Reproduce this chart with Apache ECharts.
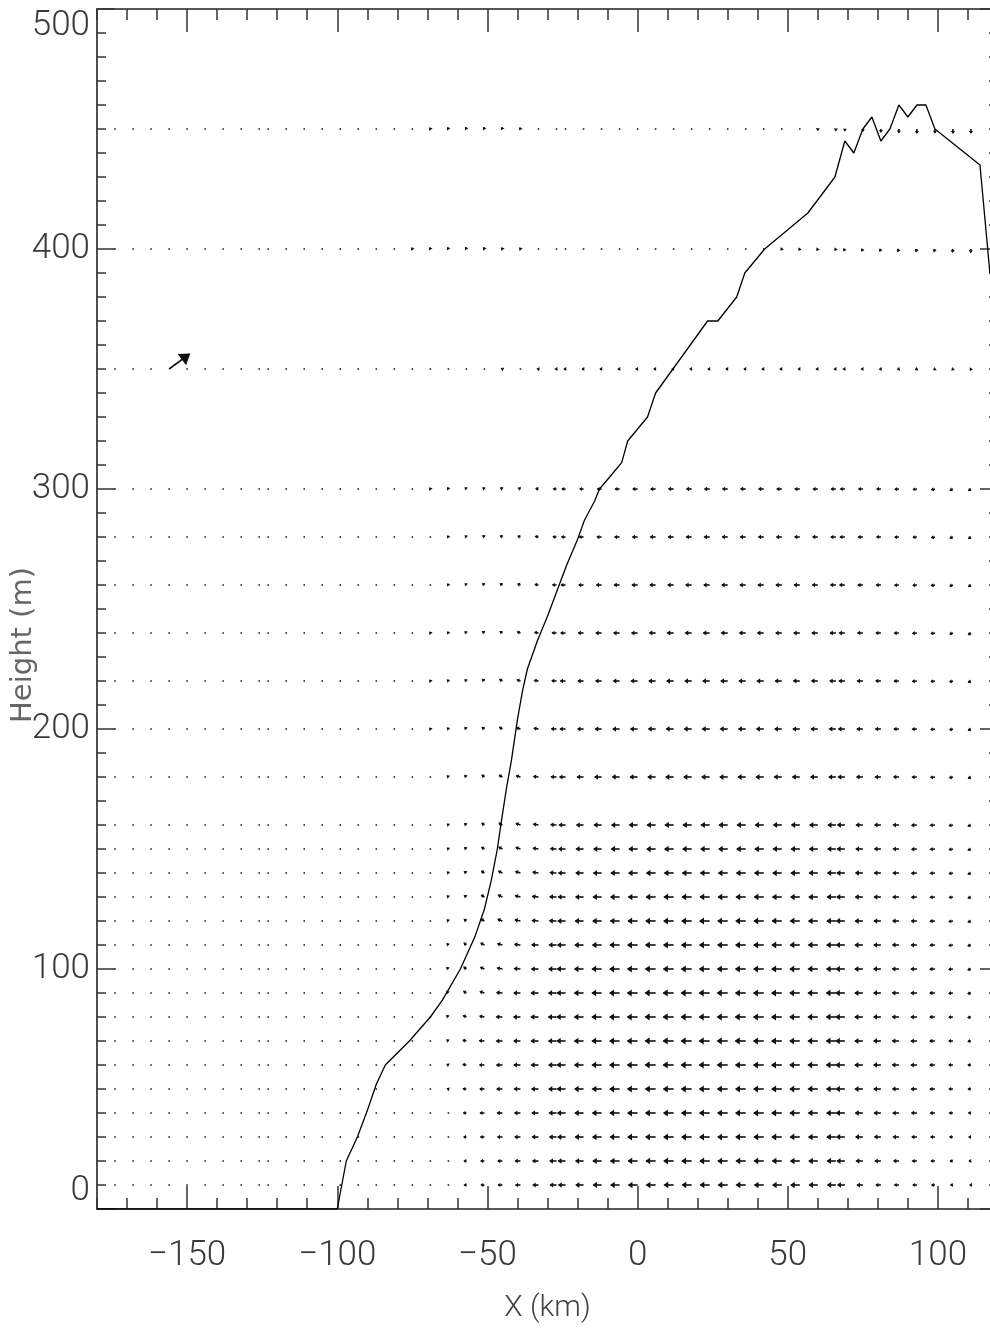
<!DOCTYPE html>
<html>
<head>
<meta charset="utf-8">
<script src="https://cdn.jsdelivr.net/npm/echarts@6/dist/echarts.min.js"></script>
<style>html,body{margin:0;padding:0;background:#fff}#chart{width:990px;height:1336px}</style>
</head>
<body>
<div id="chart"></div>
<script>
// ---------------- DATA ----------------
// grid columns (km): A | B | C | D
const X_COLUMNS = [-174,-168,-162,-156,-150,-144,-138,-132,-126,
  -123,-117,-111,-105,-99,-93,-87,-81,-75,-69,-63,-57,-51,-45,-39,-33,-27,
  -24,-18,-12,-6,0,6,12,18,24,30,36,42,48,54,60,66,
  69,75,81,87,93,99,105,111];
const ROW_HEIGHTS = [10,20,30,40,50,60,70,80,90,100,110,120,130,140,150,160,180,200,220,240,260,280,300,350,400,450];

// horizontal wind (m/s) for each row, same order as X_COLUMNS
const u_h010 = [0,0,0,0,0,0,0,0,0, 0,0,0,0,0,0,0,0,0,0,-0.3,-1.2,-1.9,-2.5,-2.9,-3.3,-3.8, -4.2,-4.6,-5,-5.3,-5.5,-5.6,-5.7,-5.7,-5.7,-5.7,-5.7,-5.6,-5.5,-5.4,-5.2,-5, -4.3,-3.4,-2.9,-2.6,-2.3,-1.9,-1.3,-0.6];
const u_h020 = [0,0,0,0,0,0,0,0,0, 0,0,0,0,0,0,0,0,0,0,-0.3,-1.3,-2.1,-2.7,-3.1,-3.5,-4, -4.4,-4.8,-5.2,-5.5,-5.7,-5.8,-5.9,-5.9,-5.9,-5.9,-5.8,-5.8,-5.7,-5.6,-5.4,-5.2, -4.7,-4,-3.5,-3.1,-2.7,-2.2,-1.6,-1];
const u_h030 = [0,0,0,0,0,0,0,0,0, 0,0,0,0,0,0,0,0,0,0,-0.4,-1.5,-2.3,-2.9,-3.3,-3.7,-4.2, -4.6,-5,-5.4,-5.7,-5.9,-6,-6,-6,-6,-6,-6,-5.9,-5.9,-5.8,-5.6,-5.4, -5,-4.3,-3.8,-3.4,-3,-2.5,-1.9,-1.2];
const u_h040 = [0,0,0,0,0,0,0,0,0, 0,0,0,0,0,0,0,0,0,0,-0.5,-1.7,-2.5,-3.1,-3.5,-3.9,-4.4, -4.8,-5.2,-5.5,-5.8,-6,-6.1,-6.1,-6.1,-6.1,-6.1,-6.1,-6,-6,-5.9,-5.7,-5.5, -5.2,-4.5,-4,-3.6,-3.2,-2.7,-2.1,-1.4];
const u_h050 = [0,0,0,0,0,0,0,0,0, 0,0,0,0,0,0,0,0,0,-0.1,-0.6,-1.9,-2.7,-3.3,-3.7,-4.1,-4.6, -5,-5.3,-5.6,-5.9,-6.1,-6.2,-6.2,-6.2,-6.2,-6.2,-6.1,-6.1,-6,-5.9,-5.8,-5.6, -5.3,-4.7,-4.2,-3.8,-3.4,-2.9,-2.3,-1.6];
const u_h060 = [0,0,0,0,0,0,0,0,0, 0,0,0,0,0,0,0,0,0,-0.2,-0.8,-2,-2.9,-3.5,-3.9,-4.3,-4.7, -5.1,-5.4,-5.7,-6,-6.2,-6.3,-6.3,-6.3,-6.3,-6.3,-6.2,-6.2,-6.1,-6,-5.9,-5.7, -5.4,-4.8,-4.3,-3.9,-3.5,-3,-2.4,-1.7];
const u_h070 = [0,0,0,0,0,0,0,0,0, 0,0,0,0,0,0,0,0,0,-0.2,-0.9,-2,-3,-3.6,-4,-4.4,-4.8, -5.2,-5.5,-5.8,-6,-6.2,-6.3,-6.3,-6.3,-6.3,-6.3,-6.3,-6.2,-6.1,-6,-5.9,-5.7, -5.4,-4.8,-4.3,-3.9,-3.5,-3,-2.4,-1.7];
const u_h080 = [0,0,0,0,0,0,0,0,0, 0,0,0,0,0,0,0,0,0,-0.2,-1,-1.8,-2.8,-3.6,-4.1,-4.5,-4.9, -5.2,-5.5,-5.8,-6,-6.2,-6.3,-6.3,-6.3,-6.3,-6.3,-6.3,-6.2,-6.1,-6,-5.9,-5.7, -5.4,-4.8,-4.3,-3.9,-3.5,-3,-2.4,-1.8];
const u_h090 = [0,0,0,0,0,0,0,0,0, 0,0,0,0,0,0,0,0,0,-0.3,-1,-1.6,-2.6,-3.4,-4,-4.4,-4.8, -5.1,-5.5,-5.8,-6,-6.2,-6.3,-6.3,-6.3,-6.3,-6.3,-6.2,-6.2,-6.1,-6,-5.9,-5.7, -5.4,-4.8,-4.3,-3.9,-3.5,-3,-2.4,-1.8];
const u_h100 = [0,0,0,0,0,0,0,0,0, 0,0,0,0,0,0,0,0,-0.1,-0.3,-0.9,-1.5,-2.3,-3.1,-3.7,-4.2,-4.6, -5,-5.4,-5.7,-5.9,-6.1,-6.2,-6.2,-6.2,-6.2,-6.2,-6.2,-6.1,-6,-5.9,-5.8,-5.6, -5.3,-4.8,-4.3,-3.9,-3.5,-3,-2.4,-1.8];
const u_h110 = [0,0,0,0,0,0,0,0,0, 0,0,0,0,0,0,0,0,-0.1,-0.3,-0.8,-1.4,-2.1,-2.9,-3.5,-4,-4.4, -4.8,-5.2,-5.5,-5.8,-6,-6.1,-6.1,-6.1,-6.1,-6.1,-6.1,-6,-5.9,-5.8,-5.7,-5.5, -5.2,-4.7,-4.2,-3.8,-3.4,-2.9,-2.3,-1.8];
const u_h120 = [0,0,0,0,0,0,0,0,0, 0,0,0,0,0,0,0,0,-0.1,-0.3,-0.7,-1.3,-1.9,-2.7,-3.3,-3.8,-4.2, -4.6,-5,-5.3,-5.6,-5.8,-5.9,-6,-6,-6,-6,-6,-5.9,-5.8,-5.7,-5.6,-5.4, -5.1,-4.6,-4.1,-3.7,-3.3,-2.8,-2.3,-1.7];
const u_h130 = [0,0,0,0,0,0,0,0,0, 0,0,0,0,0,0,0,0,-0.1,-0.3,-0.7,-1.2,-1.8,-2.5,-3.1,-3.6,-4, -4.4,-4.8,-5.1,-5.4,-5.6,-5.7,-5.8,-5.8,-5.8,-5.8,-5.8,-5.7,-5.6,-5.5,-5.4,-5.2, -4.9,-4.5,-4,-3.6,-3.2,-2.8,-2.2,-1.7];
const u_h140 = [0,0,0,0,0,0,0,0,0, 0,0,0,0,0,0,0,0,-0.1,-0.3,-0.6,-1.2,-1.7,-2.3,-2.9,-3.4,-3.8, -4.2,-4.6,-4.9,-5.2,-5.4,-5.5,-5.6,-5.6,-5.6,-5.6,-5.6,-5.5,-5.4,-5.3,-5.2,-5, -4.8,-4.4,-3.9,-3.5,-3.2,-2.7,-2.2,-1.7];
const u_h150 = [0,0,0,0,0,0,0,0,0, 0,0,0,0,0,0,0,0,-0.1,-0.3,-0.6,-1.1,-1.6,-2.1,-2.7,-3.2,-3.6, -4,-4.4,-4.7,-5,-5.2,-5.3,-5.4,-5.4,-5.4,-5.4,-5.4,-5.3,-5.2,-5.2,-5,-4.9, -4.6,-4.2,-3.8,-3.4,-3.1,-2.7,-2.2,-1.7];
const u_h160 = [0,0,0,0,0,0,0,0,0, 0,0,0,0,0,0,0,0,-0.1,-0.3,-0.6,-1.1,-1.5,-2,-2.6,-3,-3.4, -3.8,-4.2,-4.5,-4.8,-5,-5.1,-5.2,-5.2,-5.2,-5.2,-5.2,-5.1,-5,-5,-4.9,-4.7, -4.4,-4,-3.7,-3.4,-3.1,-2.7,-2.2,-1.7];
const u_h180 = [0,0,0,0,0,0,0,0,0, 0,0,0,0,0,0,0,-0.1,-0.2,-0.4,-0.7,-1,-1.4,-1.9,-2.4,-2.9,-3.2, -3.5,-3.8,-4.1,-4.3,-4.5,-4.6,-4.7,-4.7,-4.7,-4.7,-4.6,-4.6,-4.5,-4.4,-4.3,-4.1, -4,-3.7,-3.4,-3.1,-2.8,-2.5,-2,-1.5];
const u_h200 = [0,0,0,0,0,0,0,0,0, 0,0,0,0,0,0,0,-0.1,-0.2,-0.4,-0.6,-0.9,-1.3,-1.7,-2.2,-2.6,-3, -3.2,-3.5,-3.8,-4,-4.2,-4.3,-4.4,-4.4,-4.4,-4.4,-4.3,-4.3,-4.2,-4.1,-4,-3.9, -3.8,-3.5,-3.2,-2.9,-2.7,-2.4,-1.9,-1.5];
const u_h220 = [0,0,0,0,0,0,0,0,0, 0,0,0,0,0,0,0,-0.1,-0.2,-0.4,-0.6,-0.8,-1.2,-1.6,-2,-2.4,-2.7, -3,-3.3,-3.5,-3.7,-3.9,-4,-4.1,-4.1,-4.1,-4.1,-4,-4,-3.9,-3.8,-3.7,-3.6, -3.5,-3.3,-3,-2.8,-2.6,-2.3,-1.9,-1.5];
const u_h240 = [0,0,0,0,0,0,0,0,0, 0,0,0,0,0,0,0,-0.1,-0.2,-0.4,-0.5,-0.8,-1.1,-1.4,-1.8,-2.2,-2.5, -2.8,-3.1,-3.3,-3.5,-3.6,-3.7,-3.8,-3.8,-3.8,-3.8,-3.7,-3.7,-3.6,-3.6,-3.5,-3.4, -3.3,-3.1,-2.9,-2.7,-2.5,-2.2,-1.8,-1.5];
const u_h260 = [0,0,0,0,0,0,0,0,0, 0,0,0,0,0,0,0,-0.1,-0.2,-0.3,-0.5,-0.7,-1,-1.3,-1.6,-2,-2.3, -2.5,-2.8,-3,-3.2,-3.3,-3.4,-3.5,-3.5,-3.5,-3.5,-3.4,-3.4,-3.4,-3.3,-3.2,-3.1, -3.1,-2.9,-2.7,-2.5,-2.3,-2.1,-1.8,-1.4];
const u_h280 = [0,0,0,0,0,0,0,0,0, 0,0,0,0,0,0,0,-0.1,-0.2,-0.3,-0.5,-0.7,-0.9,-1.2,-1.5,-1.8,-2, -2.3,-2.5,-2.7,-2.9,-3,-3.1,-3.2,-3.2,-3.2,-3.2,-3.2,-3.1,-3.1,-3,-3,-2.9, -2.8,-2.7,-2.5,-2.4,-2.2,-2,-1.7,-1.4];
const u_h300 = [0,0,0,0,0,0,0,0,0, 0,0,0,0,0,0,0,-0.1,-0.2,-0.4,-0.5,-0.7,-0.8,-1,-1.2,-1.5,-1.8, -2,-2.2,-2.4,-2.6,-2.8,-2.9,-3,-3,-3,-3,-3,-3,-2.9,-2.9,-2.8,-2.7, -2.6,-2.5,-2.4,-2.3,-2.2,-2,-1.7,-1.4];
const u_h350 = [0,0,0,12.7,0,0,0,0,0, 0,0,0,0,0,0,0,0,-0.1,-0.2,-0.3,-0.4,-0.4,-0.5,-0.5,-0.6,-0.6, -0.7,-0.7,-0.8,-0.8,-0.9,-0.9,-0.9,-0.9,-0.9,-0.9,-0.9,-0.9,-0.9,-0.8,-0.8,-0.8, -0.8,-0.8,-0.7,-0.7,-0.7,-0.6,-0.5,-0.4];
const u_h400 = [0,0,0,0,0,0,0,0,0, 0,0,0,0,0,0,-0.1,-0.2,-0.3,-0.4,-0.4,-0.5,-0.5,-0.4,-0.4,-0.3,-0.2, -0.1,-0.1,-0.1,-0.1,0,0,0,0,0,-0.1,-0.2,-0.3,-0.4,-0.5,-0.5,-0.5, -0.6,-0.7,-0.7,-0.7,-0.6,-0.5,-0.3,-0.2];
const u_h450 = [0,0,0,0,0,0,0,0,0, 0,0,0,0,0,0,0,-0.2,-0.3,-0.4,-0.5,-0.5,-0.5,-0.4,-0.3,-0.2,-0.1, 0,0,0,0,0,0,0,0,0,0,0,0,0,0,0,0, 0,0,0,0,0,0,0,0];

// vertical wind (scaled, m/s) for each row
const w_h010 = [0,0,0,0,0,0,0,0,0, 0,0,0,0,0,0,0,0,0,0,0,0,0,0,0,0,0, 0,0,0,0,0,0,0,0,0,0,0,0,0,0,0,0, 0,0,0,0,0,0,0,0];
const w_h020 = [0,0,0,0,0,0,0,0,0, 0,0,0,0,0,0,0,0,0,0,0,0,0,0,0,0,0, 0,0,0,0,0,0,0,0,0,0,0,0,0,0,0,0, 0,0,0,0,0,0,0,0];
const w_h030 = [0,0,0,0,0,0,0,0,0, 0,0,0,0,0,0,0,0,0,0,0,0,0,0,0,0,0, 0,0,0,0,0,0,0,0,0,0,0,0,0,0,0,0, 0,0,0,0,0,0,0,0];
const w_h040 = [0,0,0,0,0,0,0,0,0, 0,0,0,0,0,0,0,0,0,0,0.1,0,0,0,0,0,0, 0,0,0,0,0,0,0,0,0,0,0,0,0,0,0,0, 0,0,0,0,0,0,0,0];
const w_h050 = [0,0,0,0,0,0,0,0,0, 0,0,0,0,0,0,0,0,0,0,0.2,0.1,0,0,0,0,0, 0,0,0,0,0,0,0,0,0,0,0,0,0,0,0,0, 0,0,0,0,0,0,0,0];
const w_h060 = [0,0,0,0,0,0,0,0,0, 0,0,0,0,0,0,0,0,0,0,0.4,0.3,0,0,0,0,0, 0,0,0,0,0,0,0,0,0,0,0,0,0,0,0,0, 0,0,0,0,0,0,0,0];
const w_h070 = [0,0,0,0,0,0,0,0,0, 0,0,0,0,0,0,0,0,0,0.1,0.6,0.5,0.2,0,0,0,0, 0,0,0,0,0,0,0,0,0,0,0,0,0,0,0,0, 0,0,0,0,0,0,0,-0.2];
const w_h080 = [0,0,0,0,0,0,0,0,0, 0,0,0,0,0,0,0,0,0,0.1,0.8,0.8,0.5,0.1,0,0,0, 0,0,0,0,0,0,0,0,0,0,0,0,0,0,0,0, 0,0,0,0,0,0,-0.1,-0.3];
const w_h090 = [0,0,0,0,0,0,0,0,0, 0,0,0,0,0,0,0,0,0,0.2,0.9,1,0.8,0.3,0,0,0, 0,0,0,0,0,0,0,0,0,0,0,0,0,0,0,0, 0,0,0,0,0,0,-0.2,-0.4];
const w_h100 = [0,0,0,0,0,0,0,0,0, 0,0,0,0,0,0,0,0,0.1,0.2,0.9,1.1,1,0.6,0.2,0,0, 0,0,0,0,0,0,0,0,0,0,0,0,0,0,0,0, 0,0,0,0,0,-0.1,-0.2,-0.5];
const w_h110 = [0,0,0,0,0,0,0,0,0, 0,0,0,0,0,0,0,0,0.1,0.2,0.8,1.1,1.1,0.8,0.4,0.1,0, 0,0,0,0,0,0,0,0,0,0,0,0,0,0,0,0, 0,0,0,0,0,-0.1,-0.3,-0.5];
const w_h120 = [0,0,0,0,0,0,0,0,0, 0,0,0,0,0,0,0,0,0.1,0.2,0.7,1,1.1,1,0.6,0.3,0.1, 0,0,0,0,0,0,0,0,0,0,0,0,0,0,0,0, 0,0,0,0,0,-0.1,-0.3,-0.6];
const w_h130 = [0,0,0,0,0,0,0,0,0, 0,0,0,0,0,0,0,0,0.1,0.2,0.6,0.9,1.1,1.1,0.8,0.4,0.1, 0,0,0,0,0,0,0,0,0,0,0,0,0,0,0,0, 0,0,0,0,-0.1,-0.2,-0.3,-0.6];
const w_h140 = [0,0,0,0,0,0,0,0,0, 0,0,0,0,0,0,0,0,0.1,0.2,0.6,0.9,1.1,1.1,0.9,0.5,0.2, 0,0,0,0,0,0,0,0,0,0,0,0,0,0,0,0, 0,0,0,0,-0.1,-0.2,-0.4,-0.7];
const w_h150 = [0,0,0,0,0,0,0,0,0, 0,0,0,0,0,0,0,0,0.1,0.2,0.5,0.8,1,1.1,0.9,0.5,0.2, 0,0,0,0,0,0,0,0,0,0,0,0,0,0,0,0, 0,0,0,0,-0.1,-0.2,-0.4,-0.7];
const w_h160 = [0,0,0,0,0,0,0,0,0, 0,0,0,0,0,0,0,0,0.1,0.2,0.5,0.8,1,1.1,0.9,0.5,0.2, 0,0,0,0,0,0,0,0,0,0,0,0,0,0,0,0, 0,0,0,0,-0.1,-0.2,-0.4,-0.7];
const w_h180 = [0,0,0,0,0,0,0,0,0, 0,0,0,0,0,0,0,0.1,0.2,0.3,0.6,0.9,1.1,1,0.7,0.3,0.1, 0,0,0,0,0,0,0,0,0,0,0,0,0,0,0,0, 0,0,0,0,-0.1,-0.3,-0.5,-0.8];
const w_h200 = [0,0,0,0,0,0,0,0,0, 0,0,0,0,0,0,0,0.1,0.2,0.4,0.6,0.9,1,1,0.7,0.4,0.1, 0,0,0,0,0,0,0,0,0,0,0,0,0,0,0,0, 0,0,0,0,-0.1,-0.3,-0.5,-0.8];
const w_h220 = [0,0,0,0,0,0,0,0,0, 0,0,0,0,0,0,0,0.1,0.2,0.4,0.6,0.8,1,0.9,0.7,0.4,0.1, 0,0,0,0,0,0,0,0,0,0,0,0,0,0,0,0, 0,0,0,-0.1,-0.2,-0.3,-0.5,-0.8];
const w_h240 = [0,0,0,0,0,0,0,0,0, 0,0,0,0,0,0,0,0.1,0.2,0.4,0.6,0.8,0.9,0.9,0.7,0.4,0.1, 0,0,0,0,0,0,0,0,0,0,0,0,0,0,0,0, 0,0,0,-0.1,-0.2,-0.4,-0.6,-0.9];
const w_h260 = [0,0,0,0,0,0,0,0,0, 0,0,0,0,0,0,0,0.1,0.2,0.4,0.6,0.8,0.9,0.8,0.6,0.3,0.1, 0,0,0,0,0,0,0,0,0,0,0,0,0,0,0,0, 0,0,0,-0.1,-0.2,-0.4,-0.6,-0.9];
const w_h280 = [0,0,0,0,0,0,0,0,0, 0,0,0,0,0,0,0,0.1,0.2,0.4,0.6,0.7,0.8,0.7,0.5,0.3,0.1, 0,0,0,0,0,0,0,0,0,0,0,0,0,0,0,0, 0,0,0,-0.1,-0.2,-0.4,-0.6,-0.9];
const w_h300 = [0,0,0,0,0,0,0,0,0, 0,0,0,0,0,0,0,0.1,0.3,0.5,0.7,0.8,0.8,0.7,0.5,0.3,0.1, 0,0,0,0,0,0,0,0,0,0,0,0,0,0,0,0, 0,0,0,-0.2,-0.3,-0.5,-0.7,-0.9];
const w_h350 = [0,0,0,9.3,0,0,0,0,0, 0,0,0,0,0,0,0,0,0.1,0.2,0.3,0.3,0.3,0.3,0.2,0.1,0, 0,0,0,0,0,0,0,0,0,0,0,0,0,0,0,0, 0,0,-0.1,-0.2,-0.3,-0.4,-0.5,-0.6];
const w_h400 = [0,0,0,0,0,0,0,0,0, 0,0,0,0,0,0,0.2,0.4,0.6,0.7,0.8,0.8,0.7,0.6,0.5,0.3,0.2, 0,0,0,0,0,0,0,0,0,-0.2,-0.3,-0.4,-0.5,-0.6,-0.7,-0.7, -1,-1.2,-1.3,-1.4,-1.5,-1.6,-1.8,-2];
const w_h450 = [0,0,0,0,0,0,0,0,0, 0,0,0,0,0,0,0,0.1,0.3,0.5,0.7,0.8,0.8,0.8,0.7,0.5,0.3, 0,0,0,0,0,0,0,0,0,0,0,-0.2,-0.3,-0.5,-0.7,-0.9, -1,-1.3,-1.8,-2.2,-2.5,-2.3,-2.5,-2.5];

const U_ROWS = [u_h010,u_h020,u_h030,u_h040,u_h050,u_h060,u_h070,u_h080,u_h090,u_h100,u_h110,u_h120,u_h130,u_h140,u_h150,u_h160,u_h180,u_h200,u_h220,u_h240,u_h260,u_h280,u_h300,u_h350,u_h400,u_h450];
const W_ROWS = [w_h010,w_h020,w_h030,w_h040,w_h050,w_h060,w_h070,w_h080,w_h090,w_h100,w_h110,w_h120,w_h130,w_h140,w_h150,w_h160,w_h180,w_h200,w_h220,w_h240,w_h260,w_h280,w_h300,w_h350,w_h400,w_h450];

// terrain / boundary line
const TERRAIN_X = [-180,-100,-97,-93.3,-90,-87,-84,-80,-76,-69,-65,-59,-54,-51,-48.7,-46.7,-45.3,-43.7,-42,-40,-38.3,-36.7,-33.3,-30,-26.7,-23.7,-20,-17.7,-14.3,-12.7,-9.3,-5.3,-3.3,3.3,6,23.3,26.7,33,35.7,42.3,56.7,65.7,69,72,75,78,81,84,87,90,93,96,99,114,117.3];
const TERRAIN_H = [0,0,20,30,41,52,60,65,70,80,87,100,114,125,137,150,162,175,187,204,216,225,237,247,258,268,279,287,295,300,305,311,320,330,340,370,370,380,390,400,415,430,445,440,450,455,445,450,460,455,460,460,450,435,390];

// ticks
const X_MINOR_TICKS = [-180,-170,-160,-150,-140,-130,-120,-110,-100,-90,-80,-70,-60,-50,-40,-30,-20,-10,0,10,20,30,40,50,60,70,80,90,100,110,120];
const X_MAJOR_TICKS = [-150,-100,-50,0,50,100];
const Y_MINOR_TICKS = [0,10,20,30,40,50,60,70,80,90,100,110,120,130,140,150,160,170,180,190,200,210,220,230,240,250,260,270,280,290,300,310,320,330,340,350,360,370,380,390,400,410,420,430,440,450,460,470,480,490,500];
const Y_MAJOR_TICKS = [0,100,200,300,400,500];
const Y_TITLE = 'Height (m)';
const X_TITLE = 'X (km)';

// ---------------- CHART ----------------
const ARROW_PX_PER_UNIT = 1.6;
const FONT = "'Liberation Sans Narrow','Roboto','Liberation Sans',sans-serif";
const INK = '#111';

const vectors = [];
ROW_HEIGHTS.forEach((h, r) => {
  X_COLUMNS.forEach((x, c) => {
    vectors.push([x, h, U_ROWS[r][c] || 0, W_ROWS[r][c] || 0]);
  });
});

function renderArrow(params, api) {
  const p0 = api.coord([api.value(0), api.value(1)]);
  const dx = api.value(2) * ARROW_PX_PER_UNIT;
  const dy = -api.value(3) * ARROW_PX_PER_UNIT;
  const len = Math.hypot(dx, dy);
  if (len < 0.9) {
    return {type: 'rect', shape: {x: p0[0] - 0.8, y: p0[1] - 0.8, width: 1.6, height: 1.6}, style: {fill: '#222'}};
  }
  const p1 = [p0[0] + dx, p0[1] + dy];
  const hl = Math.max(len * 0.42, 1.6);
  const ang = Math.atan2(dy, dx);
  const a1 = ang + Math.PI - 0.6, a2 = ang + Math.PI + 0.6;
  return {
    type: 'group',
    children: [
      {type: 'line', shape: {x1: p0[0], y1: p0[1], x2: p1[0], y2: p1[1]}, style: {stroke: INK, lineWidth: 1.6}},
      {type: 'polygon', shape: {points: [[p1[0] + hl * Math.cos(a1), p1[1] + hl * Math.sin(a1)], p1, [p1[0] + hl * Math.cos(a2), p1[1] + hl * Math.sin(a2)]]},
       style: {stroke: INK, lineWidth: 1.2, fill: INK}}
    ]
  };
}

const xFmt = v => (v < 0 ? '\u2212' + Math.abs(v) : String(v));
const tickStyle = {color: '#333', width: 1.5};
const lineStyleAxis = {color: '#222', width: 1.6};

function xAx(pos, major, withLine, withLabel) {
  const o = {
    type: 'value', min: -180, max: 120, position: pos,
    splitLine: {show: false},
    axisLine: {show: withLine, onZero: false, lineStyle: lineStyleAxis},
    axisTick: {show: true, inside: true, length: major ? 23 : 11, customValues: major ? X_MAJOR_TICKS : X_MINOR_TICKS, lineStyle: tickStyle},
    axisLabel: {show: false}
  };
  if (withLabel) {
    o.axisLabel = {show: true, customValues: X_MAJOR_TICKS, formatter: xFmt, fontFamily: FONT, fontWeight: 300, fontSize: 35, color: '#3a3a3a', margin: 30};
    o.name = X_TITLE;
    o.nameLocation = 'middle';
    o.nameGap = 84;
    o.nameTextStyle = {fontFamily: FONT, fontWeight: 300, fontSize: 30, color: '#444'};
  }
  return o;
}
function yAx(pos, major, withLine, withLabel) {
  const o = {
    type: 'value', min: 0, max: 500, position: pos,
    splitLine: {show: false},
    axisLine: {show: withLine, onZero: false, lineStyle: lineStyleAxis},
    axisTick: {show: true, inside: true, length: major ? 18 : 9, customValues: major ? Y_MAJOR_TICKS : Y_MINOR_TICKS, lineStyle: tickStyle},
    axisLabel: {show: false}
  };
  if (withLabel) {
    o.axisLabel = {show: true, customValues: Y_MAJOR_TICKS, fontFamily: FONT, fontWeight: 300, fontSize: 35, color: '#3a3a3a', margin: 7,
      verticalAlignMinLabel: 'bottom', verticalAlignMaxLabel: 'top'};
  }
  return o;
}

const chart = echarts.init(document.getElementById('chart'), null, {renderer: 'canvas'});
chart.setOption({
  backgroundColor: '#ffffff',
  animation: false,
  grid: {left: 97, top: 9, right: -8, bottom: 127, containLabel: false, outerBoundsMode: 'none'},
  xAxis: [xAx('bottom', false, true, true), xAx('bottom', true, false, false), xAx('top', false, true, false), xAx('top', true, false, false)],
  yAxis: [yAx('left', false, true, true), yAx('left', true, false, false), yAx('right', false, true, false), yAx('right', true, false, false)],
  graphic: [{
    type: 'text',
    x: 23, y: 645,
    rotation: Math.PI / 2,
    style: {text: Y_TITLE, fontFamily: "'DejaVu Sans',sans-serif", fontSize: 29, fill: '#666', align: 'center', verticalAlign: 'middle'}
  }],
  series: [
    {
      type: 'custom', xAxisIndex: 0, yAxisIndex: 0,
      renderItem: renderArrow,
      data: vectors,
      clip: false,
      z: 2
    },
    {
      type: 'line', xAxisIndex: 0, yAxisIndex: 0,
      data: TERRAIN_X.map((x, i) => [x, TERRAIN_H[i]]),
      showSymbol: false, symbol: 'none',
      lineStyle: {color: '#000', width: 1.3},
      z: 3
    }
  ]
});
</script>
</body>
</html>
